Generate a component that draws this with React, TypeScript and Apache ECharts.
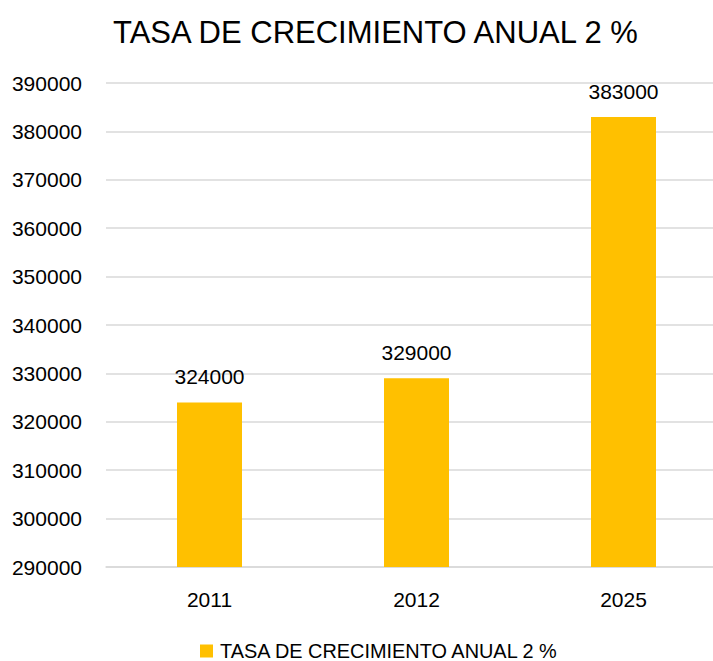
import React, { useEffect, useRef } from "react";
import * as echarts from "echarts";

const titleText = "TASA DE CRECIMIENTO ANUAL 2 %";
const seriesName = "TASA DE CRECIMIENTO ANUAL 2 %";
const categories = ["2011", "2012", "2025"];
const values = [324000, 329000, 383000];
const yMin = 290000;
const yMax = 390000;
const yInterval = 10000;

const FONT = "'Liberation Sans', Arial, sans-serif";

export default function App() {
  const ref = useRef<HTMLDivElement>(null);
  useEffect(() => {
    if (!ref.current) return;
    const chart = echarts.init(ref.current, undefined, { renderer: "svg" });
    chart.setOption({
      animation: false,
      backgroundColor: "#ffffff",
      title: {
        text: titleText,
        left: 108,
        top: 12,
        textStyle: { fontFamily: FONT, fontSize: 31, fontWeight: "normal", color: "#000" },
      },
      legend: {
        data: [seriesName],
        left: 200,
        top: 641,
        padding: 0,
        itemWidth: 13,
        itemHeight: 13,
        icon: "rect",
        itemGap: 7,
        textStyle: { fontFamily: FONT, fontSize: 19.9, color: "#000", padding: [0, 0, 0, 2] },
      },
      grid: { left: 106, right: 0, top: 83, bottom: 94 },
      xAxis: {
        type: "category",
        data: categories,
        axisLine: { show: true, lineStyle: { color: "#d9d9d9", width: 1.5 } },
        axisTick: { show: false },
        axisLabel: { fontFamily: FONT, fontSize: 21, color: "#000", margin: 22 },
      },
      yAxis: {
        type: "value",
        min: yMin,
        max: yMax,
        interval: yInterval,
        axisLine: { show: false },
        axisTick: { show: false },
        splitLine: { lineStyle: { color: "#d9d9d9", width: 1.5 } },
        axisLabel: {
          fontFamily: FONT,
          fontSize: 21,
          color: "#000",
          margin: 24,
          formatter: (v: number) => String(v),
        },
      },
      series: [
        {
          name: seriesName,
          type: "bar",
          data: values,
          barWidth: 65,
          itemStyle: { color: "#ffc000" },
          label: {
            show: true,
            position: "top",
            distance: 15,
            fontFamily: FONT,
            fontSize: 21,
            color: "#000",
          },
        },
      ],
    });
    return () => chart.dispose();
  }, []);
  return (
    <div style={{ position: "absolute", left: 0, top: 0, width: 713, height: 661, overflow: "hidden" }}>
      <div ref={ref} style={{ width: 727, height: 661 }} />
    </div>
  );
}
